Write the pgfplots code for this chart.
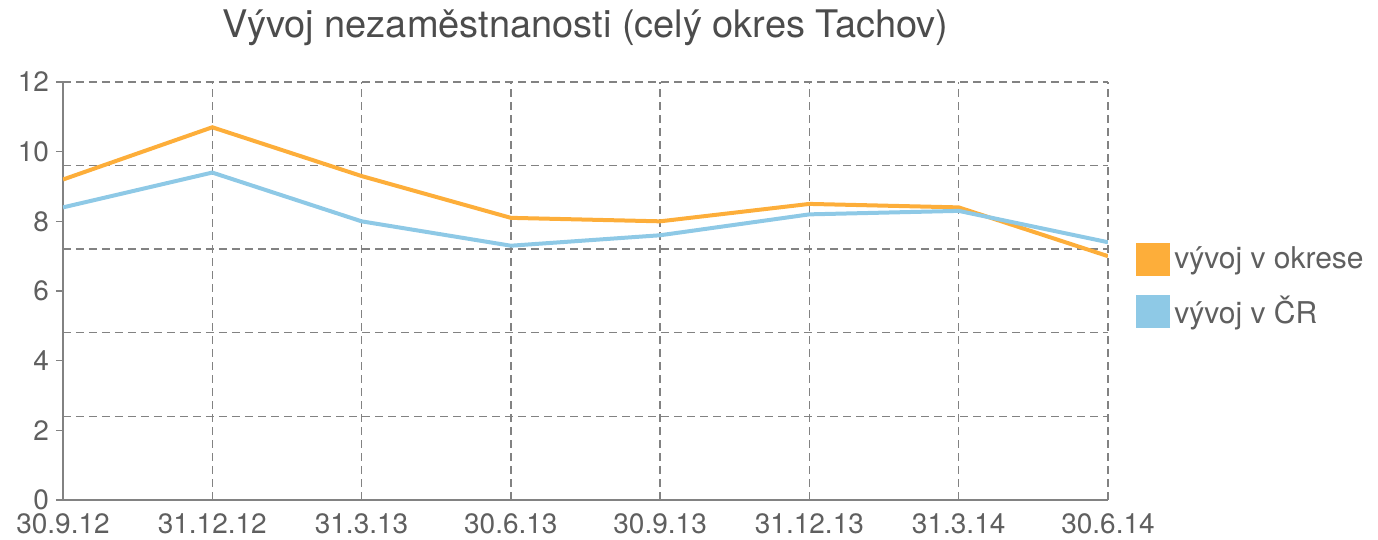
\documentclass[border=0pt]{standalone}
\usepackage{pgfplots}
\pgfplotsset{compat=1.18}
\usepackage{fontspec}
\setmainfont{TeX Gyre Heros}
\definecolor{orangeL}{RGB}{253,174,58}
\definecolor{blueL}{RGB}{142,201,230}
\definecolor{gridC}{RGB}{130,130,130}
\definecolor{txt}{RGB}{95,95,95}
\begin{document}
\begin{tikzpicture}
\path[use as bounding box] (-31.5pt,-20pt) rectangle (657.5pt,250pt);
\begin{axis}[
  at={(0,0)}, anchor=origin,
  scale only axis,
  width=522.5pt, height=209pt,
  xmin=0, xmax=7, ymin=0, ymax=12,
  axis x line*=bottom, axis y line*=left,
  axis line style={draw=gridC, line width=0.8pt, -},
  xtick={0,...,7},
  xticklabels={30.9.12,31.12.12,31.3.13,30.6.13,30.9.13,31.12.13,31.3.14,30.6.14},
  ytick={0,2,4,6,8,10,12},
  xmajorgrids, 
  grid style={draw=gridC, line width=0.7pt, dash pattern=on 4pt off 2.5pt},
  extra y ticks={2.4,4.8,7.2,9.6,12},
  extra y tick labels={},
  extra y tick style={grid=major, major tick length=0pt},
  x tick style={draw=none},
  y tick style={draw=gridC, line width=0.6pt},
  major tick length=3.5pt,
  tick align=outside,
  ticklabel style={font=\fontsize{14}{16}\selectfont, text=txt},
  /pgf/number format/assume math mode=true,
  xticklabel style={yshift=0pt},
  title={Vývoj nezaměstnanosti (celý okres Tachov)},
  title style={at={(0.5,1)}, anchor=base, yshift=16pt, font=\fontsize{19}{22}\selectfont, text=txt!80!black},
  legend style={at={(1.021,0.51)}, anchor=west, draw=none, fill=none,
    font=\fontsize{15}{17}\selectfont, text=txt, row sep=8pt,
    legend cell align=left},
  legend image code/.code={\fill[#1, draw=none] (0pt,-8.25pt) rectangle (17pt,8.25pt);},
]
\addplot[color=orangeL, line width=2pt, mark=none] coordinates {
 (0,9.2) (1,10.7) (2,9.3) (3,8.1) (4,8.0) (5,8.5) (6,8.4) (7,7.0)};
\addlegendentry{vývoj v okrese}
\addplot[color=blueL, line width=2pt, mark=none] coordinates {
 (0,8.4) (1,9.4) (2,8.0) (3,7.3) (4,7.6) (5,8.2) (6,8.3) (7,7.4)};
\addlegendentry{vývoj v ČR}
\end{axis}
\end{tikzpicture}
\end{document}
